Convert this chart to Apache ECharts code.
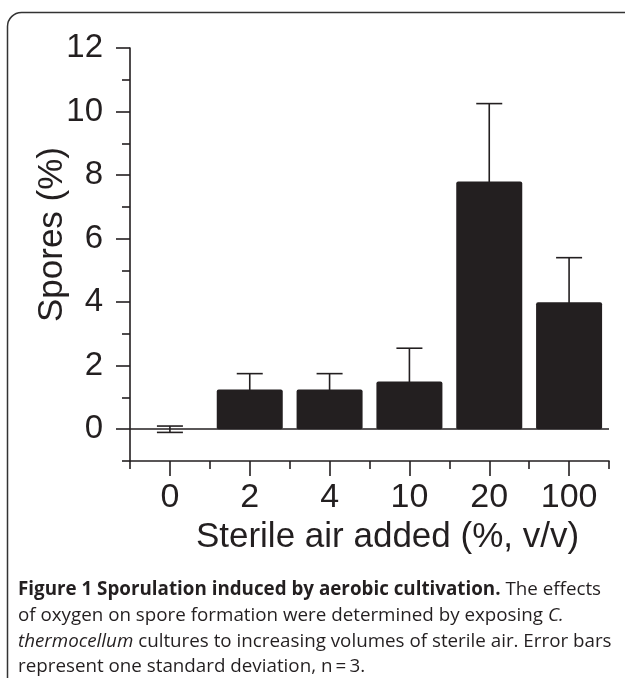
<!DOCTYPE html>
<html>
<head>
<meta charset="utf-8">
<script src="https://cdn.jsdelivr.net/npm/echarts@6/dist/echarts.min.js"></script>
<style>
	html, body { margin: 0; padding: 0; background: #fff; }
	#chart { width: 625px; height: 678px; }
</style>
</head>
<body>
<div id="chart"></div>
<script>
const categories = ['0', '2', '4', '10', '20', '100']
const sporeMeans = [0, 1.25, 1.25, 1.5, 7.8, 4.0]
const sporeSD = [0.1, 0.5, 0.5, 1.05, 2.45, 1.4]
const majorTicks = [0, 2, 4, 6, 8, 10, 12]
const minorTicks = [-1, 1, 3, 5, 7, 9, 11]

const ink = '#231f20'
const axisFont = 'Liberation Sans, Arial, Helvetica, sans-serif'
const captionFont = 'Open Sans, Noto Sans, sans-serif'

const caption = '{b|Figure 1 Sporulation induced by aerobic cultivation.} The effects\n' +
	'of oxygen on spore formation were determined by exposing {i|C.}\n' +
	'{i|thermocellum} cultures to increasing volumes of sterile air. Error bars\n' +
	'represent one standard deviation, n\u2009=\u20093.'

const chartInstance = echarts.init(document.getElementById('chart'))

// error bar: vertical line with caps, drawn under the bars
const renderError = (params, api) => {
	const idx = api.value(0)
	const mean = api.value(1)
	const sd = api.value(2)
	const top = api.coord([idx, mean + sd])
	const bot = api.coord([idx, mean - sd])
	const hw = 13
	const style = { stroke: ink, lineWidth: 1.6 }
	return {
		type: 'group',
		children: [
			{ type: 'line', shape: { x1: top[0], y1: top[1], x2: bot[0], y2: bot[1] }, style },
			{ type: 'line', shape: { x1: top[0] - hw, y1: top[1], x2: top[0] + hw, y2: top[1] }, style },
			{ type: 'line', shape: { x1: bot[0] - hw, y1: bot[1], x2: bot[0] + hw, y2: bot[1] }, style }
		]
	}
}

const option = {
	animation: false,
	backgroundColor: '#fff',
	title: {
		text: caption,
		left: 18,
		top: 577,
		padding: 0,
		textStyle: {
			fontFamily: captionFont,
			fontSize: 18.8,
			fontWeight: 'normal',
			color: ink,
			lineHeight: 25.7,
			rich: {
				b: { fontFamily: captionFont, fontSize: 18.8, fontWeight: 'bold', color: ink, lineHeight: 25.7 },
				i: { fontFamily: captionFont, fontSize: 18.8, fontStyle: 'italic', color: ink, lineHeight: 25.7 }
			}
		}
	},
	graphic: [
		{
			type: 'rect',
			silent: true,
			z: -10,
			shape: { x: 7.5, y: 12.5, width: 900, height: 900, r: [14, 0, 0, 0] },
			style: { fill: 'none', stroke: '#333', lineWidth: 1.5 }
		}
	],
	grid: {
		left: 130,
		right: 16,
		top: 48,
		bottom: 217,
		containLabel: false
	},
	xAxis: [
		{
			type: 'category',
			data: categories,
			position: 'bottom',
			boundaryGap: true,
			axisLine: { onZero: false, lineStyle: { color: ink, width: 1.6 } },
			axisTick: { show: true, length: 8, lineStyle: { color: ink, width: 1.6 } },
			axisLabel: { margin: 20, color: ink, fontSize: 34, fontFamily: axisFont },
			name: 'Sterile air added (%, v/v)',
			nameLocation: 'middle',
			nameGap: 59,
			nameMoveOverlap: false,
			nameTextStyle: { color: ink, fontSize: 35, fontFamily: axisFont, padding: [0, 0, 0, 36] }
		},
		{
			type: 'category',
			data: categories,
			position: 'bottom',
			axisLine: { show: false, onZero: false },
			axisTick: { show: true, alignWithLabel: true, length: 15, lineStyle: { color: ink, width: 1.6 } },
			axisLabel: { show: false }
		}
	],
	yAxis: [
		{
			type: 'value',
			position: 'left',
			min: -1,
			max: 12,
			splitLine: { show: false },
			axisLine: { show: true, lineStyle: { color: ink, width: 1.6 } },
			axisTick: { show: true, length: 14, customValues: majorTicks, lineStyle: { color: ink, width: 1.6 } },
			axisLabel: { margin: 27, color: ink, fontSize: 33, fontFamily: axisFont, customValues: majorTicks },
			name: 'Spores (%)',
			nameLocation: 'middle',
			nameGap: 60,
			nameMoveOverlap: false,
			nameTextStyle: { color: ink, fontSize: 35, fontFamily: axisFont, padding: [0, 0, 0, 40] }
		},
		{
			type: 'value',
			position: 'left',
			min: -1,
			max: 12,
			splitLine: { show: false },
			axisLine: { show: false },
			axisTick: { show: true, length: 8, customValues: minorTicks, lineStyle: { color: ink, width: 1.6 } },
			axisLabel: { show: false }
		}
	],
	series: [
		{
			type: 'bar',
			xAxisIndex: 0,
			yAxisIndex: 0,
			data: sporeMeans,
			barWidth: 66,
			z: 3,
			itemStyle: { color: ink, borderRadius: 2 },
			markLine: {
				silent: true,
				symbol: 'none',
				label: { show: false },
				lineStyle: { color: ink, width: 1.6, type: 'solid' },
				data: [{ yAxis: 0 }]
			}
		},
		{
			type: 'custom',
			xAxisIndex: 0,
			yAxisIndex: 0,
			z: 1,
			renderItem: renderError,
			data: categories.map((c, i) => [i, sporeMeans[i], sporeSD[i]])
		}
	]
}

chartInstance.setOption(option)
</script>
</body>
</html>
